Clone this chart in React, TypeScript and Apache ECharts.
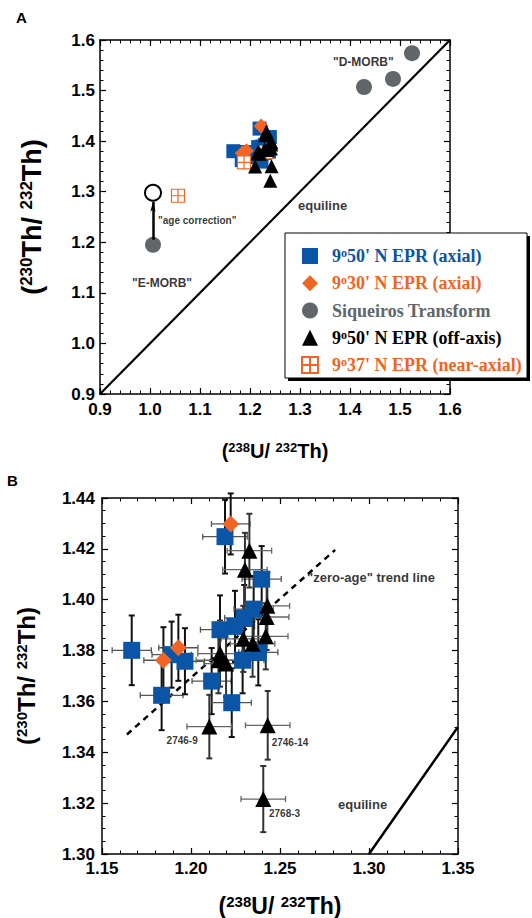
import React, { useEffect, useRef } from 'react';
import * as echarts from 'echarts';

// ---------- data ----------
// 9°50' N EPR (axial)
const axialX = [1.1667, 1.1835, 1.1891, 1.1966, 1.2116, 1.2229, 1.229, 1.2378, 1.2163, 1.2247, 1.2299, 1.2352, 1.2397, 1.2191];
const axialY = [1.3801, 1.3624, 1.3784, 1.3758, 1.368, 1.3595, 1.3762, 1.3793, 1.3882, 1.3895, 1.3928, 1.3963, 1.4081, 1.4248];
const axialXErr = [0.011, 0.012, 0.011, 0.011, 0.011, 0.011, 0.012, 0.011, 0.011, 0.011, 0.011, 0.011, 0.011, 0.0125];
const axialYErr = [0.0137, 0.0137, 0.013, 0.013, 0.013, 0.0135, 0.013, 0.013, 0.0135, 0.014, 0.013, 0.013, 0.013, 0.0145];
// 9°30' N EPR (axial)
const s30X = [1.2223, 1.1929, 1.1845];
const s30Y = [1.4298, 1.3811, 1.3762];
const s30XErr = [0.0108, 0.011, 0.011];
const s30YErr = [0.012, 0.013, 0.013];
// 9°50' N EPR (off-axis)
const offX = [1.2328, 1.2303, 1.2429, 1.2425, 1.242, 1.2294, 1.2346, 1.2163, 1.2154, 1.2197, 1.2103, 1.2431, 1.2406];
const offY = [1.4193, 1.4118, 1.3976, 1.3932, 1.3856, 1.3846, 1.3827, 1.3788, 1.3762, 1.3749, 1.3501, 1.3506, 1.3216];
const offXErr = [0.0125, 0.0125, 0.0125, 0.0125, 0.0125, 0.0125, 0.0125, 0.0125, 0.0125, 0.0125, 0.0126, 0.0125, 0.0125];
const offYErr = [0.0145, 0.0145, 0.013, 0.013, 0.013, 0.013, 0.013, 0.013, 0.013, 0.013, 0.0125, 0.0135, 0.013];
// Siqueiros Transform
const siqX = [1.428, 1.486, 1.524, 1.006];
const siqY = [1.507, 1.523, 1.574, 1.195];
// 9°37' N EPR (near-axial)
const nearX = [1.056, 1.188, 1.232];
const nearY = [1.292, 1.358, 1.378];
// age-corrected E-MORB
const ageX = [1.006];
const ageY = [1.298];
const arrowFrom = [1.006, 1.205];
const arrowTo = [1.006, 1.28];
// reference lines
const equilineA = [[0.9, 0.9], [1.6, 1.6]];
const equilineB = [[1.3, 1.3], [1.35, 1.35]];
const trendLine = [[1.164, 1.347], [1.281, 1.4196]];
// axes
const axisA = { min: 0.9, max: 1.6, interval: 0.1, minor: 5, digits: 1 };
const axisBX = { min: 1.15, max: 1.35, interval: 0.05, minor: 5, digits: 2 };
const axisBY = { min: 1.3, max: 1.44, interval: 0.02, minor: 4, digits: 2 };
// annotations
const notesA = [
  { text: '"D-MORB"', x: 1.366, y: 1.5565 },
  { text: 'equiline', x: 1.296, y: 1.2737 },
  { text: '"age correction"', x: 1.016, y: 1.244 },
  { text: '"E-MORB"', x: 0.964, y: 1.119 },
];
const notesB = [
  { text: '"zero-age" trend line', x: 1.2652, y: 1.4089 },
  { text: 'equiline', x: 1.2826, y: 1.3193 },
  { text: '2746-9', x: 1.1863, y: 1.3448 },
  { text: '2746-14', x: 1.2453, y: 1.3438 },
  { text: '2768-3', x: 1.2438, y: 1.3161 },
];
const notesASize = [12, 13, 10, 12];
const notesBSize = [13, 13, 10, 10, 10];

const N_AXIAL = "9o50' N EPR (axial)";
const N_S30 = "9o30' N EPR (axial)";
const N_SIQ = 'Siqueiros Transform';
const N_OFF = "9o50' N EPR (off-axis)";
const N_NEAR = "9o37' N EPR (near-axial)";

const BLUE = '#0a55a6';
const ORANGE = '#f26424';
const GRAY = '#606669';
const SANS = '"Liberation Sans", Arial, Helvetica, sans-serif';
const SERIF = '"Liberation Serif", "Times New Roman", serif';
const GRID_PATH = 'path://M0,0L10,0L10,10L0,10Z M5,0L5,10 M0,5L10,5';

const zip = (xs: number[], ys: number[]) => xs.map((x, i) => [x, ys[i]]);
const zip4 = (xs: number[], ys: number[], ex: number[], ey: number[]) => xs.map((x, i) => [x, ys[i], ex[i], ey[i]]);

function makeAxis(cfg: any, gridIndex: number, position: string, showLabels: boolean, labelMargin: number) {
  return {
    type: 'value',
    gridIndex,
    position,
    min: cfg.min,
    max: cfg.max,
    interval: cfg.interval,
    splitLine: { show: false },
    axisLine: { show: true, onZero: false, lineStyle: { color: '#000', width: 1.5 } },
    axisTick: { show: true, inside: true, length: 6, lineStyle: { color: '#000', width: 1.2 } },
    minorTick: { show: true, splitNumber: cfg.minor, length: 3.5, lineStyle: { color: '#000', width: 1 } },
    axisLabel: {
      show: showLabels,
      margin: labelMargin,
      color: '#000',
      fontFamily: SANS,
      fontWeight: 'bold',
      fontSize: 17,
      formatter: (v: number) => v.toFixed(cfg.digits),
    },
  };
}

function nameStyle(size: number, supSize: number) {
  return {
    fontFamily: SANS,
    fontWeight: 'bold',
    fontSize: size,
    color: '#000',
    rich: {
      s: { fontFamily: SANS, fontWeight: 'bold', fontSize: supSize, color: '#000', verticalAlign: 'top' },
      m: { fontFamily: SANS, fontWeight: 'bold', fontSize: size, color: '#000' },
    },
  };
}
const TITLE_Y = '{m|(}{s|230}{m|Th/ }{s|232}{m|Th)}';
const TITLE_X = '{m|(}{s|238}{m|U/ }{s|232}{m|Th)}';

function errorBars(vColor: string, hColor: string) {
  return (params: any, api: any) => {
    const x = api.value(0), y = api.value(1), ex = api.value(2), ey = api.value(3);
    const l = api.coord([x - ex, y]);
    const r = api.coord([x + ex, y]);
    const t = api.coord([x, y + ey]);
    const b = api.coord([x, y - ey]);
    const cap = 3;
    const hs = { stroke: hColor, lineWidth: 1.3 };
    const vs = { stroke: vColor, lineWidth: 2 };
    return {
      type: 'group',
      children: [
        { type: 'line', shape: { x1: l[0], y1: l[1], x2: r[0], y2: r[1] }, style: hs },
        { type: 'line', shape: { x1: l[0], y1: l[1] - cap, x2: l[0], y2: l[1] + cap }, style: hs },
        { type: 'line', shape: { x1: r[0], y1: r[1] - cap, x2: r[0], y2: r[1] + cap }, style: hs },
        { type: 'line', shape: { x1: t[0], y1: t[1], x2: b[0], y2: b[1] }, style: vs },
        { type: 'line', shape: { x1: t[0] - cap, y1: t[1], x2: t[0] + cap, y2: t[1] }, style: vs },
        { type: 'line', shape: { x1: b[0] - cap, y1: b[1], x2: b[0] + cap, y2: b[1] }, style: vs },
      ],
    };
  };
}

function notesSeries(notes: any[], sizes: number[], xi: number, yi: number) {
  return {
    type: 'scatter',
    xAxisIndex: xi,
    yAxisIndex: yi,
    symbolSize: 0,
    silent: true,
    z: 10,
    data: notes.map((n, i) => ({
      value: [n.x, n.y],
      label: {
        show: true,
        position: 'right',
        distance: 0,
        formatter: n.text,
        color: '#000',
        fontFamily: SANS,
        fontWeight: 'bold',
        fontSize: sizes[i],
      },
    })),
  };
}

function legendItem(name: string, color: string, icon: string) {
  return {
    name,
    icon,
    textStyle: {
      color,
      rich: { s: { color, fontFamily: SERIF, fontWeight: 'bold', fontSize: 12, verticalAlign: 'top' } },
    },
  };
}

export default function App() {
  const ref = useRef<HTMLDivElement>(null);
  useEffect(() => {
    if (!ref.current) return;
    const chart = echarts.init(ref.current, undefined, { renderer: 'svg' });
    const option: any = {
      animation: false,
      backgroundColor: '#fff',
      grid: [
        { left: 100, top: 40, width: 350, height: 354 },
        { left: 102, top: 498, width: 356, height: 356 },
      ],
      xAxis: [
        {
          ...makeAxis(axisA, 0, 'bottom', true, 7),
          name: TITLE_X, nameLocation: 'middle', nameGap: 47, nameTextStyle: nameStyle(20, 13),
        },
        makeAxis(axisA, 0, 'top', false, 0),
        {
          ...makeAxis(axisBX, 1, 'bottom', true, 6),
          name: TITLE_X, nameLocation: 'middle', nameGap: 40, nameTextStyle: nameStyle(23, 15),
        },
        makeAxis(axisBX, 1, 'top', false, 0),
      ],
      yAxis: [
        {
          ...makeAxis(axisA, 0, 'left', true, 5),
          name: TITLE_Y, nameLocation: 'middle', nameRotate: 90, nameGap: 55, nameTextStyle: nameStyle(27, 17),
        },
        makeAxis(axisA, 0, 'right', false, 0),
        {
          ...makeAxis(axisBY, 1, 'left', true, 7),
          name: TITLE_Y, nameLocation: 'middle', nameRotate: 90, nameGap: 64, nameTextStyle: nameStyle(24, 15),
        },
        makeAxis(axisBY, 1, 'right', false, 0),
      ],
      legend: {
        orient: 'vertical',
        left: 301,
        top: 247,
        padding: 0,
        itemWidth: 16,
        itemHeight: 16,
        itemGap: 9.25,
        selectedMode: false,
        z: 8,
        textStyle: {
          fontFamily: SERIF,
          fontWeight: 'bold',
          fontSize: 18,
          lineHeight: 18,
          padding: [0, 0, 0, 9],
        },
        formatter: (name: string) => name.replace(/^9o/, '9{s|o}'),
        data: [
          legendItem(N_AXIAL, BLUE, 'rect'),
          legendItem(N_S30, ORANGE, 'diamond'),
          legendItem(N_SIQ, GRAY, 'circle'),
          legendItem(N_OFF, '#000', 'triangle'),
          legendItem(N_NEAR, ORANGE, GRID_PATH),
        ],
      },
      graphic: {
        elements: [
          { type: 'rect', z: 5, shape: { x: 288, y: 236, width: 242, height: 145 }, style: { fill: '#000' } },
          { type: 'rect', z: 6, shape: { x: 285, y: 233, width: 242, height: 145 }, style: { fill: '#fff', stroke: '#000', lineWidth: 1 } },
          { type: 'text', z: 6, x: 16, y: 10, style: { text: 'A', font: `bold 15px ${SANS}`, fill: '#000' } },
          { type: 'text', z: 6, x: 7, y: 473, style: { text: 'B', font: `bold 15px ${SANS}`, fill: '#000' } },
        ],
      },
      series: [
        // ---------- panel A ----------
        {
          type: 'line', xAxisIndex: 0, yAxisIndex: 0, data: equilineA, symbol: 'none', silent: true,
          lineStyle: { color: '#000', width: 2.2 }, z: 1,
        },
        {
          name: N_SIQ, type: 'scatter', xAxisIndex: 0, yAxisIndex: 0, symbol: 'circle', symbolSize: 16,
          itemStyle: { color: GRAY, opacity: 1 }, data: zip(siqX, siqY), z: 3,
        },
        {
          type: 'scatter', xAxisIndex: 0, yAxisIndex: 0, symbol: 'circle', symbolSize: 16,
          itemStyle: { color: '#fff', borderColor: '#000', borderWidth: 2, opacity: 1 }, data: zip(ageX, ageY), z: 3,
          markLine: {
            silent: true,
            symbol: ['none', 'arrow'],
            symbolSize: [4, 10],
            label: { show: false },
            lineStyle: { color: '#000', width: 2.5, type: 'solid' },
            data: [[{ coord: arrowFrom }, { coord: arrowTo }]],
          },
        },
        {
          name: N_AXIAL, type: 'scatter', xAxisIndex: 0, yAxisIndex: 0, symbol: 'rect', symbolSize: 14,
          itemStyle: { color: BLUE, opacity: 1 }, data: zip(axialX, axialY), z: 3,
        },
        {
          name: N_S30, type: 'scatter', xAxisIndex: 0, yAxisIndex: 0, symbol: 'diamond', symbolSize: 15,
          itemStyle: { color: ORANGE, opacity: 1 }, data: zip(s30X, s30Y), z: 4,
        },
        {
          name: N_NEAR, type: 'scatter', xAxisIndex: 0, yAxisIndex: 0, symbol: GRID_PATH, symbolSize: 13,
          itemStyle: { color: '#fff', borderColor: ORANGE, borderWidth: 1.2, opacity: 1 }, data: zip(nearX, nearY), z: 4,
        },
        {
          name: N_OFF, type: 'scatter', xAxisIndex: 0, yAxisIndex: 0, symbol: 'triangle', symbolSize: 14,
          itemStyle: { color: '#000', opacity: 1 }, data: zip(offX, offY), z: 5,
        },
        notesSeries(notesA, notesASize, 0, 0),
        // ---------- panel B ----------
        {
          type: 'line', xAxisIndex: 2, yAxisIndex: 2, data: equilineB, symbol: 'none', silent: true,
          lineStyle: { color: '#000', width: 2.5 }, z: 1,
        },
        {
          type: 'line', xAxisIndex: 2, yAxisIndex: 2, data: trendLine, symbol: 'none', silent: true,
          lineStyle: { color: '#000', width: 2.5, type: [6, 5] }, z: 1,
        },
        {
          type: 'custom', xAxisIndex: 2, yAxisIndex: 2, renderItem: errorBars('#111', '#555'),
          encode: { x: 0, y: 1 }, data: zip4(axialX, axialY, axialXErr, axialYErr), z: 2, silent: true,
        },
        {
          type: 'custom', xAxisIndex: 2, yAxisIndex: 2, renderItem: errorBars('#111', '#555'),
          encode: { x: 0, y: 1 }, data: zip4(s30X, s30Y, s30XErr, s30YErr), z: 2, silent: true,
        },
        {
          type: 'custom', xAxisIndex: 2, yAxisIndex: 2, renderItem: errorBars('#333', '#666'),
          encode: { x: 0, y: 1 }, data: zip4(offX, offY, offXErr, offYErr), z: 2, silent: true,
        },
        {
          name: 'B axial', type: 'scatter', xAxisIndex: 2, yAxisIndex: 2, symbol: 'rect', symbolSize: 17,
          itemStyle: { color: BLUE, opacity: 1 }, data: zip(axialX, axialY), z: 3,
        },
        {
          name: 'B 30', type: 'scatter', xAxisIndex: 2, yAxisIndex: 2, symbol: 'diamond', symbolSize: 17,
          itemStyle: { color: ORANGE, opacity: 1 }, data: zip(s30X, s30Y), z: 4,
        },
        {
          name: 'B off', type: 'scatter', xAxisIndex: 2, yAxisIndex: 2, symbol: 'triangle', symbolSize: 16,
          itemStyle: { color: '#000', opacity: 1 }, data: zip(offX, offY), z: 5,
        },
        notesSeries(notesB, notesBSize, 2, 2),
      ],
    };
    chart.setOption(option);
    return () => chart.dispose();
  }, []);
  return <div ref={ref} style={{ position: 'absolute', left: 0, top: 0, width: 532, height: 918 }} />;
}
